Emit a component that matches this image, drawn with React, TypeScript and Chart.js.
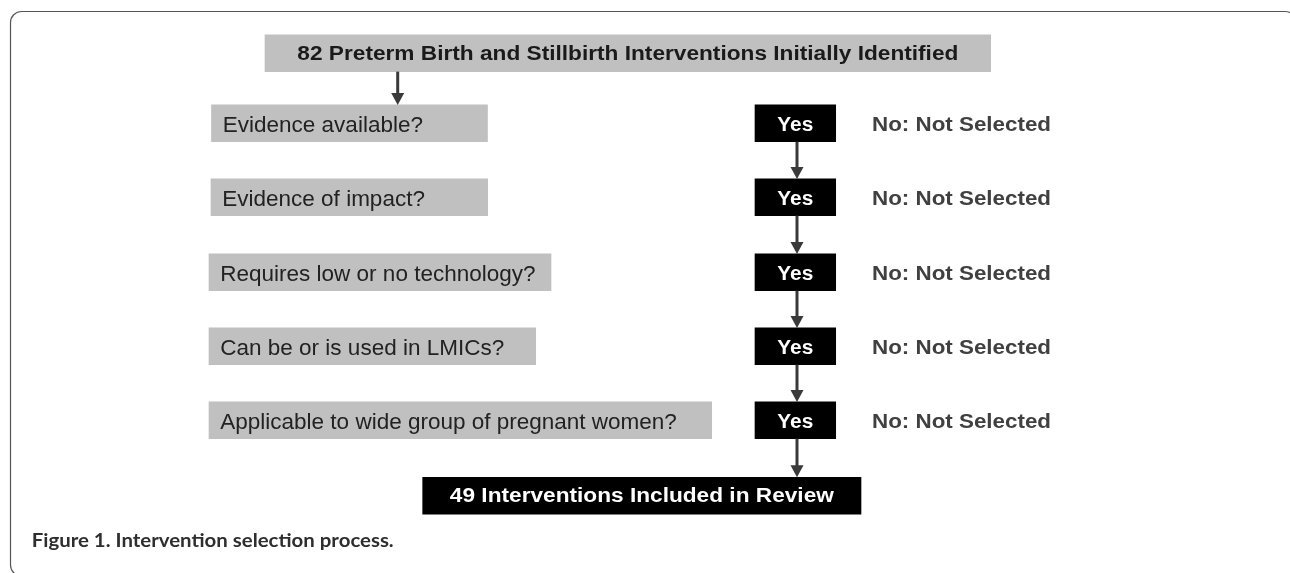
import { useEffect, useRef } from "react";
import { Chart, registerables } from "chart.js";

Chart.register(...registerables);

// ---- content ----
const topLabel = "82 Preterm Birth and Stillbirth Interventions Initially Identified";
const criteria = [
  "Evidence available?",
  "Evidence of impact?",
  "Requires low or no technology?",
  "Can be or is used in LMICs?",
  "Applicable to wide group of pregnant women?",
];
const yesLabel = "Yes";
const noLabel = "No: Not Selected";
const finalLabel = "49 Interventions Included in Review";
const caption = "Figure 1. Intervention selection process.";

// ---- layout (frame coordinates, 1290 x 573) ----
const W = 1290;
const H = 573;
const boxH = 36.7;
const rowCenters = [123.3, 197.3, 272.3, 346.3, 420.3];
const criteriaLeft = [211.5, 211, 209, 209, 209];
const criteriaRight = [487.5, 487.7, 551, 535.7, 711.7];
const topBox = { x0: 265, x1: 990.7, y: 53.3 };
const yesBox = { x0: 755, x1: 835.7 };
const finalBox = { x0: 422.7, x1: 861, y: 495.7 };
const arrowXTop = 397.7;
const arrowXYes = 797;
const noX = 872;

const SANS = '"Liberation Sans", Arial, Helvetica, sans-serif';

function fitText(
  ctx: CanvasRenderingContext2D,
  str: string,
  x: number,
  baseline: number,
  font: string,
  color: string,
  align: CanvasTextAlign,
  targetW?: number
) {
  ctx.save();
  ctx.font = font;
  const w = ctx.measureText(str).width;
  const sx = targetW ? targetW / w : 1;
  ctx.translate(x, baseline);
  ctx.scale(sx, 1);
  ctx.textAlign = align;
  ctx.textBaseline = "alphabetic";
  ctx.fillStyle = color;
  ctx.fillText(str, 0, 0);
  ctx.restore();
}

const flowPlugin = {
  id: "flow",
  beforeDatasetsDraw(chart: any) {
    const ctx: CanvasRenderingContext2D = chart.ctx;
    const xs = chart.scales.x;
    const ys = chart.scales.y;
    const px = (v: number) => xs.getPixelForValue(v);
    const py = (v: number) => ys.getPixelForValue(v);
    // frame
    ctx.save();
    ctx.strokeStyle = "#555555";
    ctx.lineWidth = 1.2;
    ctx.beginPath();
    (ctx as any).roundRect(px(10.5), py(11.5), px(1296) - px(10.5), py(576) - py(11.5), 11);
    ctx.stroke();
    ctx.restore();
  },
  afterDatasetsDraw(chart: any) {
    const ctx: CanvasRenderingContext2D = chart.ctx;
    const xs = chart.scales.x;
    const ys = chart.scales.y;
    const px = (v: number) => xs.getPixelForValue(v);
    const py = (v: number) => ys.getPixelForValue(v);

    const arrow = (x: number, y0: number, y1: number) => {
      const head = 12;
      const hw = 6.5;
      ctx.save();
      ctx.fillStyle = "#3a3a3a";
      ctx.fillRect(px(x) - 1.5, py(y0), 3, py(y1 - head) - py(y0) + 1);
      ctx.beginPath();
      ctx.moveTo(px(x - hw), py(y1 - head));
      ctx.lineTo(px(x + hw), py(y1 - head));
      ctx.lineTo(px(x), py(y1));
      ctx.closePath();
      ctx.fill();
      ctx.restore();
    };

    // top text
    fitText(ctx, topLabel, px((topBox.x0 + topBox.x1) / 2), py(topBox.y + 6.7), `bold 20px ${SANS}`, "#1a1a1a", "center", 661);
    // arrow from top box
    arrow(arrowXTop, topBox.y + boxH / 2, rowCenters[0] - boxH / 2);

    criteria.forEach((c, i) => {
      const yc = rowCenters[i];
      fitText(ctx, c, px(criteriaLeft[i] + 11.3), py(yc + 8.4), `22.5px ${SANS}`, "#222222", "left");
      fitText(ctx, yesLabel, px((yesBox.x0 + yesBox.x1) / 2), py(yc + 7.4), `bold 20px ${SANS}`, "#ffffff", "center", 36);
      fitText(ctx, noLabel, px(noX), py(yc + 7.7), `bold 19.5px ${SANS}`, "#404040", "left", 179);
      const nextTop = i < criteria.length - 1 ? rowCenters[i + 1] - boxH / 2 : finalBox.y - boxH / 2;
      arrow(arrowXYes, yc + boxH / 2, nextTop);
    });

    fitText(ctx, finalLabel, px((finalBox.x0 + finalBox.x1) / 2), py(finalBox.y + 6.6), `bold 20px ${SANS}`, "#ffffff", "center", 384);

    fitText(ctx, caption, px(31.7), py(546.7), `bold 19.5px Lato, "Open Sans", sans-serif`, "#2e2e2e", "left", 362);
  },
};

export default function App() {
  const ref = useRef<HTMLCanvasElement | null>(null);
  useEffect(() => {
    if (!ref.current) return;
    const grayData = [
      { y: topBox.y, x: [topBox.x0, topBox.x1] },
      ...criteria.map((_, i) => ({ y: rowCenters[i], x: [criteriaLeft[i], criteriaRight[i]] })),
    ];
    const blackData = [
      ...rowCenters.map((y) => ({ y, x: [yesBox.x0, yesBox.x1] })),
      { y: finalBox.y, x: [finalBox.x0, finalBox.x1] },
    ];
    const chart = new Chart(ref.current, {
      type: "bar",
      data: {
        datasets: [
          {
            label: "questions",
            data: grayData as any,
            backgroundColor: "#c0c0c0",
            borderWidth: 0,
            barThickness: boxH,
            grouped: false,
          } as any,
          {
            label: "outcomes",
            data: blackData as any,
            backgroundColor: "#000000",
            borderWidth: 0,
            barThickness: boxH,
            grouped: false,
          } as any,
        ],
      },
      options: {
        indexAxis: "y",
        animation: false,
        responsive: false,
        devicePixelRatio: 1,
        layout: { padding: 0 },
        events: [],
        scales: {
          x: { type: "linear", min: 0, max: W, display: false, offset: false },
          y: { type: "linear", min: 0, max: H, reverse: true, display: false, offset: false },
        },
        plugins: {
          legend: { display: false },
          tooltip: { enabled: false },
        },
      } as any,
      plugins: [flowPlugin],
    });
    return () => chart.destroy();
  }, []);
  return (
    <div style={{ position: "absolute", left: 0, top: 0, width: W, height: H, background: "#ffffff" }}>
      <canvas ref={ref} width={W} height={H} style={{ display: "block", width: W, height: H }} />
    </div>
  );
}
